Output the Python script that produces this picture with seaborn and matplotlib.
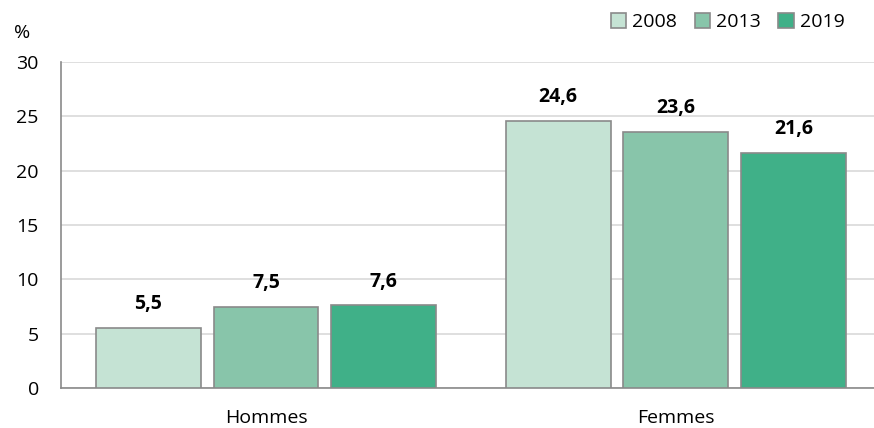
import pandas as pd
import matplotlib.pyplot as plt
import seaborn as sns

groups = ["Hommes", "Femmes"]
years = ["2008", "2013", "2019"]
values_2008 = [5.5, 24.6]
values_2013 = [7.5, 23.6]
values_2019 = [7.6, 21.6]
colors = ["#c5e3d4", "#88c5aa", "#40b088"]

df = pd.DataFrame({
    "groupe": groups * 3,
    "annee": [y for y in years for _ in groups],
    "valeur": values_2008 + values_2013 + values_2019,
})

sns.set_style("white")
plt.rcParams["font.family"] = ["Open Sans", "DejaVu Sans"]
plt.rcParams["text.color"] = "black"
plt.rcParams["xtick.color"] = "black"
plt.rcParams["ytick.color"] = "black"

fig = plt.figure(figsize=(8.74, 4.28), dpi=100)
ax = fig.add_axes([61 / 874, 40 / 428, 1 - 61 / 874, 326 / 428])

sns.barplot(data=df, x="groupe", y="valeur", hue="annee", order=groups,
            hue_order=years, palette=colors, saturation=1, width=0.863, gap=0.11,
            edgecolor="#8a8a8a", linewidth=1.2, ax=ax, zorder=3)

for cont in ax.containers:
    ax.bar_label(cont, labels=[f"{v:.1f}".replace(".", ",") for v in cont.datavalues],
                 padding=10, fontsize=14, fontweight="bold", color="black")

ax.set_ylim(0, 30)
ax.set_yticks(range(0, 31, 5))
ax.set_xlim(-0.5, 1.483)
ax.yaxis.grid(True, color="#d9d9d9", linewidth=1.2, zorder=0)
ax.set_axisbelow(True)
for s in ["top", "right"]:
    ax.spines[s].set_visible(False)
ax.spines["left"].set_color("#8a8a8a")
ax.spines["bottom"].set_color("#8a8a8a")
ax.spines["left"].set_linewidth(1.2)
ax.spines["bottom"].set_linewidth(1.2)
ax.tick_params(axis="both", length=0, labelsize=14)
ax.tick_params(axis="y", pad=16)
ax.tick_params(axis="x", pad=15)
ax.set_xlabel("")
ax.set_ylabel("")
ax.text(22 / 874, 1 - 33 / 428, "%", transform=fig.transFigure, fontsize=14,
        ha="center", va="center")

ax.legend(loc="center right", bbox_to_anchor=(854 / 874, 1 - 22 / 428), bbox_transform=fig.transFigure,
          ncol=3, frameon=False, fontsize=14, handlelength=0.8, handleheight=0.8,
          handletextpad=0.3, columnspacing=0.9, borderpad=0)

fig.savefig("out.png", dpi=100)
